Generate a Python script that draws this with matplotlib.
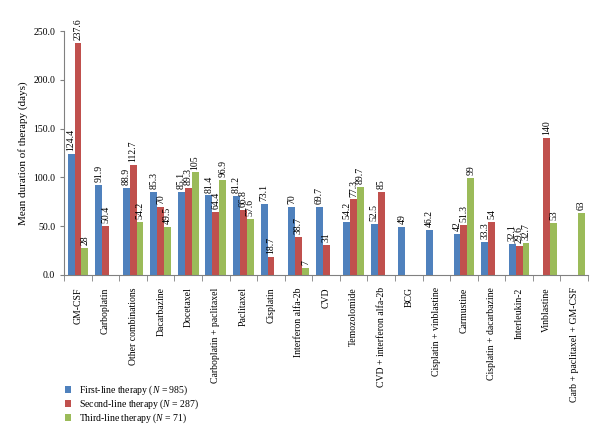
import matplotlib
matplotlib.use("Agg")
import matplotlib.pyplot as plt
import numpy as np

plt.rcParams["font.family"] = ["Liberation Serif", "DejaVu Serif"]
plt.rcParams["mathtext.fontset"] = "custom"
plt.rcParams["mathtext.rm"] = "Liberation Serif"
plt.rcParams["mathtext.it"] = "Liberation Serif:italic"

categories = ["GM-CSF", "Carboplatin", "Other combinations", "Dacarbazine", "Docetaxel",
              "Carboplatin + paclitaxel", "Paclitaxel", "Cisplatin", "Interferon alfa-2b", "CVD",
              "Temozolomide", "CVD + interferon alfa-2b", "BCG", "Cisplatin + vinblastine",
              "Carmustine", "Cisplatin + dacarbazine", "Interleukin-2", "Vinblastine",
              "Carb + paclitaxel + GM-CSF"]
first_line = [124.4, 91.9, 88.9, 85.3, 85.1, 81.4, 81.2, 73.1, 70, 69.7,
              54.2, 52.5, 49, 46.2, 42, 33.3, 32.1, None, None]
second_line = [237.6, 50.4, 112.7, 70, 89.3, 64.4, 66.8, 18.7, 38.7, 31,
               77.3, 85, None, None, 51.3, 54, 29.6, 140, None]
third_line = [28, None, 54.2, 49.5, 105, 96.9, 57.6, None, 7, None,
              89.7, None, None, None, 99, None, 32.7, 53, 63]

series = [
    ("First-line therapy ($N$ = 985)", first_line, "#4F81BD"),
    ("Second-line therapy ($N$ = 287)", second_line, "#C0504D"),
    ("Third-line therapy ($N$ = 71)", third_line, "#9BBB59"),
]

fig = plt.figure(figsize=(6, 4.37), dpi=100)
ax = fig.add_axes([0.107, 0.371, 0.873, 0.558])

x = np.arange(len(categories))
w = 0.25
for i, (name, vals, col) in enumerate(series):
    pos = x + (i - 1) * w
    v = np.array([np.nan if a is None else a for a in vals], dtype=float)
    ax.bar(pos, v, width=w, color=col, label=name)
    for p, val in zip(pos, vals):
        if val is None:
            continue
        ax.text(p, val + 3, f"{val:g}", rotation=90, ha="center", va="bottom", fontsize=7)

ax.set_xlim(-0.5, len(categories) - 0.5)
ax.set_ylim(0, 250)
ax.set_yticks(np.arange(0, 251, 50))
ax.set_yticklabels([f"{t:.1f}" for t in range(0, 251, 50)], fontsize=7)
ax.set_xticks(x)
ax.set_xticklabels(categories, rotation=90, fontsize=7)
ax.set_xticks(np.arange(-0.5, len(categories), 1), minor=True)
ax.tick_params(axis="x", which="major", length=0, pad=9)
ax.tick_params(axis="x", which="minor", length=4, color="#808080")
ax.tick_params(axis="y", length=3, color="#808080")
ax.set_ylabel("Mean duration of therapy (days)", fontsize=8)

for s in ["top", "right"]:
    ax.spines[s].set_visible(False)
for s in ["left", "bottom"]:
    ax.spines[s].set_color("#808080")

ax.legend(loc="upper left", bbox_to_anchor=(0.1, 0.133), bbox_transform=fig.transFigure,
          frameon=False, fontsize=7, handlelength=0.6, handleheight=0.6, borderpad=0,
          handletextpad=0.9, labelspacing=0.05)

fig.savefig("out.png", dpi=100)
